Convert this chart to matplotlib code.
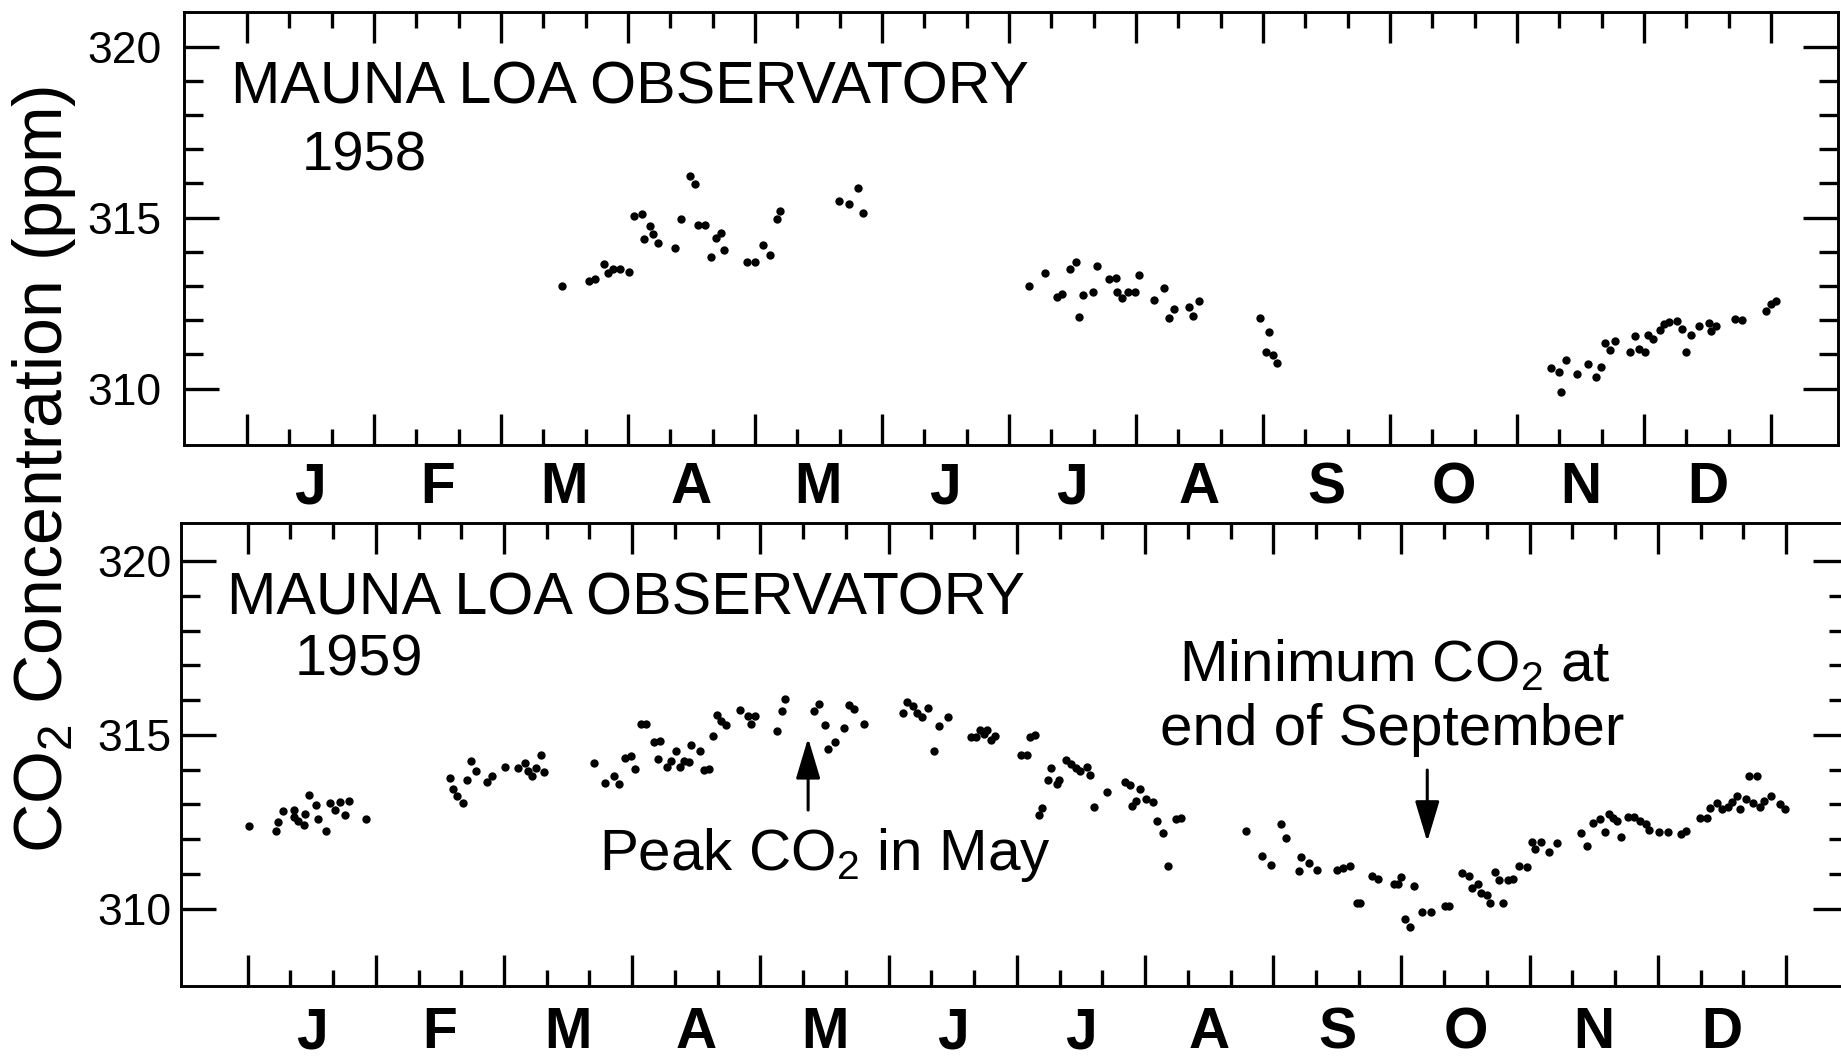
import numpy as np
import matplotlib
matplotlib.use("Agg")
import matplotlib.pyplot as plt
from matplotlib.ticker import MultipleLocator, FixedLocator, FormatStrFormatter

plt.rcParams['font.family'] = ['Liberation Sans', 'DejaVu Sans']
plt.rcParams['mathtext.fontset'] = 'custom'
plt.rcParams['mathtext.rm'] = 'Liberation Sans'
plt.rcParams['mathtext.it'] = 'Liberation Sans:italic'
plt.rcParams['mathtext.bf'] = 'Liberation Sans:bold'

# x = months since 1 January, y = CO2 in ppm
months = ['J', 'F', 'M', 'A', 'M', 'J', 'J', 'A', 'S', 'O', 'N', 'D']

x1958 = [2.48, 2.69, 2.74, 2.81, 2.84, 2.88, 2.94, 3.01, 3.05, 3.11, 3.17, 3.13, 3.20, 3.24, 3.37, 3.42,
         3.49, 3.53, 3.55, 3.61, 3.65, 3.69, 3.73, 3.76, 3.94, 4.00, 4.06, 4.12, 4.17, 4.20, 4.66, 4.74,
         4.81, 4.85,
         6.16, 6.28, 6.38, 6.42, 6.48, 6.53, 6.55, 6.58, 6.66, 6.69, 6.79, 6.84, 6.85, 6.89, 6.94, 6.99,
         7.02, 7.14, 7.22, 7.26, 7.30, 7.42, 7.45, 7.50, 7.98, 8.05, 8.02, 8.08, 8.11,
         10.27, 10.33, 10.35, 10.39, 10.47, 10.56, 10.62, 10.66, 10.69, 10.73, 10.77, 10.89, 10.93, 10.96,
         11.01, 11.03, 11.07, 11.13, 11.16, 11.20, 11.26, 11.30, 11.33, 11.37, 11.43, 11.51, 11.53, 11.57,
         11.72, 11.77, 11.96, 12.00, 12.04]
y1958 = [313.00, 313.16, 313.20, 313.64, 313.39, 313.50, 313.50, 313.41, 315.05, 315.11, 314.76, 314.37,
         314.52, 314.26, 314.12, 314.95, 316.22, 315.99, 314.79, 314.79, 313.86, 314.39, 314.54, 314.04,
         313.70, 313.70, 314.20, 313.90, 314.96, 315.20, 315.49, 315.41, 315.86, 315.12,
         313.01, 313.39, 312.69, 312.78, 313.51, 313.71, 312.09, 312.73, 312.83, 313.57, 313.21, 313.24,
         312.81, 312.66, 312.82, 312.83, 313.33, 312.59, 312.94, 312.07, 312.33, 312.39, 312.12, 312.57,
         312.05, 311.66, 311.07, 310.99, 310.76,
         310.61, 310.48, 309.91, 310.83, 310.42, 310.71, 310.34, 310.64, 311.32, 311.12, 311.39, 311.08,
         311.55, 311.17, 311.08, 311.57, 311.44, 311.72, 311.89, 311.94, 311.98, 311.73, 311.08, 311.56,
         311.83, 311.91, 311.69, 311.83, 312.02, 312.01, 312.28, 312.47, 312.57]

x1959 = [0.01, 0.22, 0.24, 0.28, 0.36, 0.36, 0.39, 0.44, 0.45, 0.48, 0.53, 0.55, 0.61, 0.64, 0.68, 0.72,
         0.76, 0.79, 0.92,
         1.58, 1.60, 1.63, 1.68, 1.71, 1.74, 1.78, 1.87, 1.91, 2.01, 2.11, 2.16, 2.19, 2.22, 2.25, 2.29, 2.31,
         2.70, 2.79, 2.86, 2.90, 2.94, 2.99, 3.02, 3.07, 3.11, 3.17, 3.22, 3.20, 3.27, 3.30, 3.34, 3.37,
         3.40, 3.44, 3.46, 3.53, 3.56, 3.60, 3.63, 3.66, 3.69, 3.73, 3.84, 3.90, 3.93, 3.96, 4.13, 4.17,
         4.19, 4.42, 4.46, 4.50, 4.53, 4.58, 4.65, 4.69, 4.73, 4.81,
         5.11, 5.14, 5.19, 5.22, 5.26, 5.31, 5.35, 5.39, 5.46, 5.64, 5.68, 5.71, 5.74, 5.77, 5.80, 5.83,
         6.03, 6.08, 6.10, 6.14, 6.17, 6.20, 6.27, 6.24, 6.31, 6.33, 6.38, 6.42, 6.46, 6.49, 6.55, 6.57,
         6.60, 6.70, 6.84, 6.88, 6.96, 6.93, 6.90, 7.01, 7.06, 7.09, 7.14, 7.24, 7.28, 7.18,
         7.79, 7.91, 7.98, 8.06, 8.10, 8.22, 8.20, 8.28, 8.34, 8.50, 8.54, 8.60, 8.65, 8.68, 8.77, 8.82,
         8.94, 8.97, 9.00, 9.10, 9.03, 9.07,
         9.16, 9.23, 9.34, 9.37, 9.47, 9.53, 9.55, 9.60, 9.62, 9.67, 9.69, 9.79, 9.73, 9.76, 9.83, 9.87,
         9.92, 9.98, 10.02, 10.04, 10.09, 10.15, 10.21,
         10.40, 10.45, 10.49, 10.55, 10.59, 10.62, 10.65, 10.68, 10.71, 10.77, 10.81, 10.86, 10.91, 10.93,
         11.01, 11.08, 11.18, 11.22,
         11.33, 11.38, 11.41, 11.46, 11.50, 11.55, 11.58, 11.62, 11.64, 11.69, 11.71, 11.77, 11.74, 11.80,
         11.83, 11.88, 11.95, 11.99]
y1959 = [312.39, 312.24, 312.51, 312.80, 312.84, 312.65, 312.53, 312.41, 312.72, 313.28, 312.99, 312.59,
         312.25, 313.03, 312.84, 313.07, 312.69, 313.10, 312.59,
         313.76, 313.44, 313.25, 313.03, 313.70, 314.25, 313.97, 313.64, 313.81, 314.09, 314.06, 314.18,
         313.97, 313.81, 314.06, 314.43, 313.93,
         314.19, 313.63, 313.82, 313.60, 314.33, 314.38, 314.02, 315.32, 315.32, 314.81, 314.83, 314.32,
         314.09, 314.25, 314.55, 314.09, 314.26, 314.22, 314.71, 314.55, 313.99, 314.01, 314.98, 315.57,
         315.40, 315.29, 315.72, 315.55, 315.32, 315.55, 315.11, 315.70, 316.03, 315.69, 315.90, 315.28,
         314.59, 314.79, 315.20, 315.85, 315.75, 315.32,
         315.64, 315.94, 315.83, 315.64, 315.51, 315.78, 314.54, 315.27, 315.51, 314.95, 314.95, 315.14,
         315.02, 315.14, 314.84, 314.98,
         314.42, 314.42, 314.93, 315.01, 312.70, 312.89, 314.04, 313.71, 313.59, 313.70, 314.28, 314.17,
         314.06, 313.97, 314.09, 313.85, 312.92, 313.36, 313.66, 313.57, 313.45, 313.10, 312.97, 313.17,
         313.07, 312.53, 312.18, 312.59, 312.61, 311.24,
         312.23, 311.53, 311.26, 312.44, 312.05, 311.50, 311.10, 311.33, 311.12, 311.12, 311.18, 311.22,
         310.16, 310.16, 310.95, 310.87, 310.71, 310.71, 310.93, 310.67, 309.70, 309.47,
         309.92, 309.92, 310.09, 310.07, 311.04, 310.95, 310.59, 310.71, 310.45, 310.40, 310.18, 310.18,
         311.07, 310.83, 310.82, 310.85, 311.24, 311.19, 311.92, 311.72, 311.93, 311.64, 311.89,
         312.19, 311.82, 312.48, 312.58, 312.20, 312.74, 312.61, 312.52, 312.08, 312.64, 312.64, 312.54,
         312.44, 312.27, 312.22, 312.22, 312.15, 312.25,
         312.61, 312.61, 312.89, 313.04, 312.87, 312.94, 313.08, 313.25, 312.88, 313.15, 313.82, 313.82,
         313.04, 312.94, 313.11, 313.23, 313.01, 312.87]


def style_axes(ax, xlim, ylim, pad, month_y):
    ax.set_xlim(*xlim)
    ax.set_ylim(*ylim)
    ax.xaxis.set_major_locator(MultipleLocator(1))
    ax.xaxis.set_minor_locator(FixedLocator(np.arange(0, 12.01, 1 / 3)))
    ax.yaxis.set_major_locator(FixedLocator([310, 315, 320]))
    ax.yaxis.set_minor_locator(FixedLocator(np.arange(310, 321)))
    ax.yaxis.set_major_formatter(FormatStrFormatter('%d'))
    ax.tick_params(axis='x', which='both', direction='in', top=True, bottom=True,
                   labelbottom=False, width=2.4, color='black')
    ax.tick_params(axis='x', which='major', length=22)
    ax.tick_params(axis='x', which='minor', length=11.5)
    ax.tick_params(axis='y', which='both', direction='in', left=True, right=True,
                   width=2.4, labelsize=32, pad=pad)
    ax.tick_params(axis='y', which='major', length=25)
    ax.tick_params(axis='y', which='minor', length=13.5)
    for s in ax.spines.values():
        s.set_linewidth(2.1)
    for k, m in enumerate(months):
        ax.text(k + 0.5, month_y, m, transform=ax.get_xaxis_transform(),
                ha='center', va='baseline', fontsize=41, fontweight='bold')


fig = plt.figure(figsize=(18.41, 10.57), dpi=100)
ax1 = fig.add_axes([0.0998, 0.5790, 0.8983, 0.4099])
ax2 = fig.add_axes([0.0982, 0.0667, 0.9057, 0.4382])

style_axes(ax1, (-0.498, 12.524), (308.35, 321.02), 16, -0.134)
style_axes(ax2, (-0.521, 12.484), (307.77, 321.08), 6.5, -0.133)

ax1.plot(x1958, y1958, 'o', color='black', ms=6.0, mec='none')
ax2.plot(x1959, y1959, 'o', color='black', ms=6.0, mec='none')

ax1.text(0.0286, 0.7886, 'MAUNA LOA OBSERVATORY', transform=ax1.transAxes,
         fontsize=42.7, ha='left', va='baseline')
ax1.text(0.0715, 0.6347, '1958', transform=ax1.transAxes,
         fontsize=40.5, ha='left', va='baseline')
ax2.text(0.0278, 0.8027, 'MAUNA LOA OBSERVATORY', transform=ax2.transAxes,
         fontsize=42.7, ha='left', va='baseline')
ax2.text(0.0680, 0.6710, '1959', transform=ax2.transAxes,
         fontsize=41.5, ha='left', va='baseline')

arrow = dict(arrowstyle='-|>,head_length=1.0,head_width=0.3', mutation_scale=25,
             lw=2.2, color='black', shrinkA=0, shrinkB=0)
ax2.annotate('', xy=(4.372, 314.91), xytext=(4.372, 312.84), arrowprops=arrow)
ax2.text(2.74, 311.12, r'Peak CO$_\mathregular{2}$ in May', fontsize=42,
         ha='left', va='baseline')

ax2.annotate('', xy=(9.201, 311.93), xytext=(9.201, 313.99), arrowprops=arrow)
ax2.text(8.950, 316.55, r'Minimum CO$_\mathregular{2}$ at', fontsize=42,
         ha='center', va='baseline')
ax2.text(8.930, 314.71, 'end of September', fontsize=42,
         ha='center', va='baseline')

fig.text(44 / 1841, 0.5558, r'CO$_\mathregular{2}$ Concentration (ppm)', rotation=90,
         fontsize=49, ha='center', va='center')

fig.savefig('out.png', dpi=100)
